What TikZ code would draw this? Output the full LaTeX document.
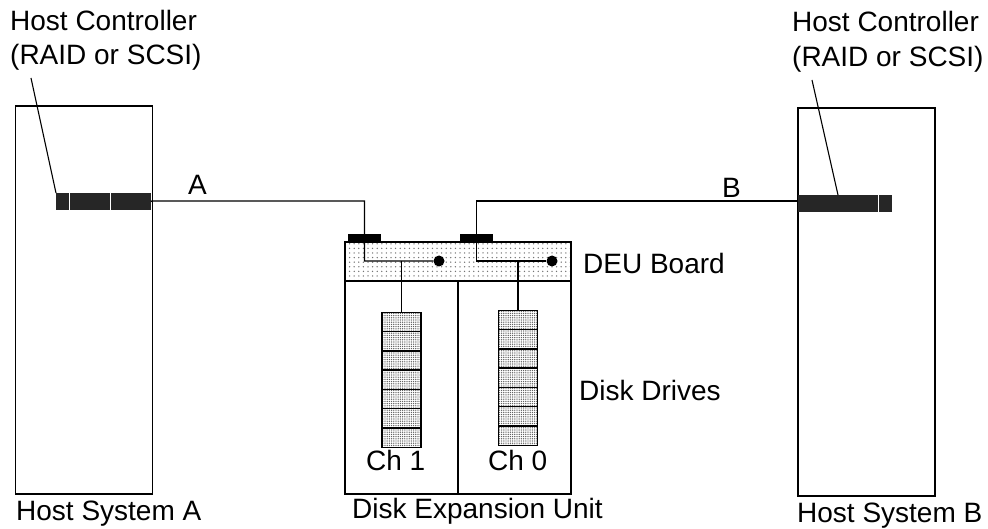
\documentclass[tikz,border=0pt]{standalone}
\usepackage{fontspec}
\setmainfont{Liberation Sans}
\usepackage{tikz}
\usetikzlibrary{patterns.meta}

\tikzset{
  plainbox/.style={draw,line width=1.4pt,inner sep=0pt,outer sep=0pt},
  boardbox/.style={plainbox,pattern={Dots[distance=4.6pt,radius=0.75pt]},pattern color=black!55},
  drivebox/.style={plainbox,pattern={Dots[distance=2.2pt,radius=0.72pt]},pattern color=black!62},
  slotbox/.style={fill=black!85,inner sep=0pt,outer sep=0pt,minimum height=17pt},
  padbox/.style={fill=black,inner sep=0pt,outer sep=0pt,minimum height=8pt,minimum width=33pt},
  label/.style={anchor=base west,inner sep=0pt,font=\fontsize{28}{32}\selectfont},
  wire/.style={line width=1.4pt},
  leader/.style={line width=1.1pt}
}

\begin{document}
\begin{tikzpicture}[x=1pt,y=-1pt]
  \useasboundingbox (0,0) rectangle (988,529);

  % host systems
  \node[plainbox,minimum width=137pt,minimum height=388pt] (hostA) at (84,300) {};
  \node[plainbox,minimum width=137pt,minimum height=388pt] (hostB) at (866.5,302) {};

  % expansion unit
  \node[plainbox,minimum width=226pt,minimum height=252pt] (unit) at (458,368) {};
  \node[boardbox,minimum width=226pt,minimum height=39pt] (board) at (458,261.5) {};
  \coordinate (split) at (458,281);
  \draw[wire] (split) -- (unit.south);

  % controller slots
  \node[slotbox,minimum width=13pt] (slotA1) at (62.5,201.5) {};
  \node[slotbox,minimum width=40pt] (slotA2) at (90,201.5) {};
  \node[slotbox,minimum width=40pt] (slotA3) at (131,201.5) {};
  \node[slotbox,minimum width=40pt] (slotB1) at (817.5,203.5) {};
  \node[slotbox,minimum width=40pt] (slotB2) at (858,203.5) {};
  \node[slotbox,minimum width=13pt] (slotB3) at (885.5,203.5) {};

  % board connectors
  \node[padbox] (padA) at (364.5,238) {};
  \node[padbox] (padB) at (476.5,238) {};
  \node[circle,fill=black,inner sep=0pt,minimum size=11pt] (dotA) at (439,261) {};
  \node[circle,fill=black,inner sep=0pt,minimum size=11pt] (dotB) at (552,261) {};

  % drive stacks
  \foreach \n in {1,...,7} {
    \node[drivebox,minimum width=39pt,minimum height=19.3pt] (diskA\n) at (401.5,302.6+19.3*\n) {};
    \node[drivebox,minimum width=39pt,minimum height=19.3pt] (diskB\n) at (518,300.6+19.3*\n) {};
  }

  % wiring
  \coordinate (turnA) at (364.5,261);
  \coordinate (turnB) at (476.5,261);
  \coordinate (tapA) at (401.5,261);
  \coordinate (tapB) at (518,261);
  \draw[wire] (slotA3.east) -- (152,201) -| (turnA) -- (dotA);
  \draw[wire] (hostB.west |- 0,201) -| (turnB) -- (dotB);
  \draw[wire] (tapA) -- (diskA1.north);
  \draw[wire] (tapB) -- (diskB1.north);

  % labels
  \node[label] (ctlA) at (10,31) {Host Controller};
  \node[label] (raidA) at (10,65) {(RAID or SCSI)};
  \node[label] (ctlB) at (792,32) {Host Controller};
  \node[label] (raidB) at (792,67) {(RAID or SCSI)};
  \node[label] (nameA) at (16,520) {Host System A};
  \node[label] (nameB) at (797,522) {Host System B};
  \node[label] (nameU) at (352,518) {Disk Expansion Unit};
  \node[label] (nameD) at (583,274) {DEU Board};
  \node[label] (nameS) at (579,400) {Disk Drives};
  \node[label] (nameC1) at (366,470) {Ch 1};
  \node[label] (nameC0) at (488,470) {Ch 0};
  \node[label] (linkA) at (188,195) {A};
  \node[label] (linkB) at (722,198) {B};

  % leaders
  \coordinate (tipA) at (31,78);
  \coordinate (tipB) at (812,80);
  \draw[leader] (tipA) -- (slotA1.north west);
  \draw[leader] (tipB) -- (slotB2.north west);
\end{tikzpicture}
\end{document}
